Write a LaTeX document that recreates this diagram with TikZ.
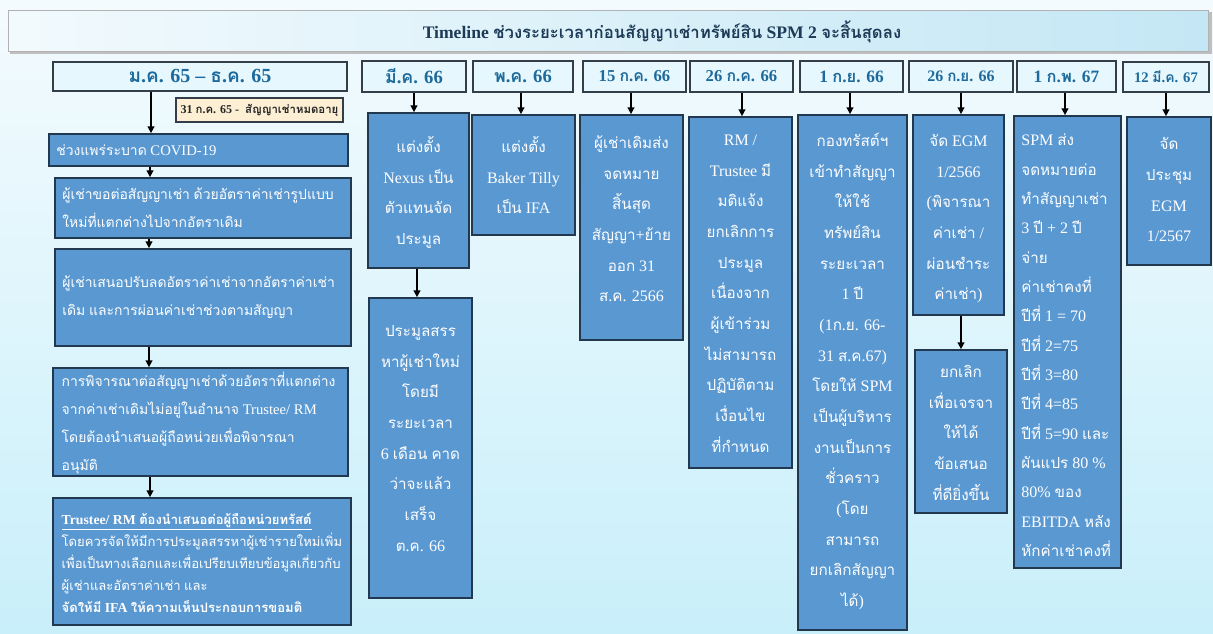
\documentclass[tikz,border=0pt]{standalone}
\usepackage{fontspec}
\usetikzlibrary{arrows.meta,fit}
\setmainfont{Liberation Serif}
\newfontfamily\thaifont[Script=Thai,Scale=0.95]{Loma}
\XeTeXinterchartokenstate=1
\chardef\ThaiCls=10
\count255="0E00
\loop \XeTeXcharclass\count255=\ThaiCls \advance\count255 by 1 \ifnum\count255<"0E80 \repeat
\XeTeXinterchartoks 0 \ThaiCls = {\thaifont}
\XeTeXinterchartoks 4095 \ThaiCls = {\thaifont}
\XeTeXinterchartoks \ThaiCls 0 = {\rmfamily}
\XeTeXinterchartoks \ThaiCls 4095 = {\rmfamily}
\definecolor{bgtop}{HTML}{F4FBFE}
\definecolor{bgbot}{HTML}{C9EFFA}
\definecolor{boxblue}{HTML}{5A98D2}
\definecolor{boxline}{HTML}{22384F}
\definecolor{hdrfill}{HTML}{E6F8FD}
\definecolor{hdrline}{HTML}{333E48}
\definecolor{hdrtxt}{HTML}{1E6A9C}
\definecolor{titletxt}{HTML}{1D3B57}
\definecolor{notefill}{HTML}{FCEFD3}
\definecolor{banleft}{HTML}{F2FAFD}
\definecolor{banright}{HTML}{C4E7F5}
\tikzset{
  hdr/.style={draw=hdrline, line width=1.2pt, fill=hdrfill, inner sep=0pt},
  hdrtext/.style={inner sep=0pt, text=hdrtxt},
  bbox/.style={draw=boxline, line width=1.3pt, fill=boxblue, inner sep=0pt},
  ltext/.style={inner sep=0pt, anchor=west, text=white, align=left, font=\fontsize{11}{21}\selectfont},
  ctext/.style={text=white, align=center, inner sep=0pt, anchor=north, font=\fontsize{12}{23}\selectfont, execute at begin node={\rule{0pt}{14pt}}},
  arr/.style={-{Triangle[length=5pt,width=5pt]}, line width=1.1pt, draw=black},
}
\begin{document}
\begin{tikzpicture}[x=0.75pt,y=-0.75pt]
\useasboundingbox (0,0) rectangle (1213,633);
\shade[top color=bgtop, bottom color=bgbot] (0,0) rectangle (1213,633);
% title banner
\fill[gray!50] (10,12) rectangle (1212,54);
\node[fit={(8,10)(1208,51)}, inner sep=0pt, left color=banleft, right color=banright, draw=gray!60, line width=0.6pt] (title) {};
\node[inner sep=0pt, text=titletxt, font=\fontsize{13.2}{16}\selectfont\bfseries] (titlet) at (662,32) {Timeline ช่วงระยะเวลาก่อนสัญญาเช่าทรัพย์สิน SPM 2 จะสิ้นสุดลง};
% column 1
\node[hdr, fit={(53,62)(347,91)}] (h1) {};
\node[hdrtext, font=\fontsize{15}{17}\selectfont\bfseries] (h1t) at (h1) {ม.ค. 65 – ธ.ค. 65};
\node[fit={(176,98)(343,122)}, inner sep=0pt, draw=hdrline, line width=1pt, fill=notefill] (note) {};
\node[inner sep=0pt, text=black!85, font=\fontsize{9}{10}\selectfont\bfseries] (notet) at (note) {31 ก.ค. 65 -~ สัญญาเช่าหมดอายุ};
\node[bbox, fit={(49,134)(348,166)}] (l1) {};
\node[ltext] (l1t) at ([xshift=6pt]l1.west) {ช่วงแพร่ระบาด COVID-19};
\node[bbox, fit={(55,178)(351,238)}] (l2) {};
\node[ltext] (l2t) at ([xshift=6pt]l2.west) {ผู้เช่าขอต่อสัญญาเช่า ด้วยอัตราค่าเช่ารูปแบบ\\ใหม่ที่แตกต่างไปจากอัตราเดิม};
\node[bbox, fit={(55,249)(351,346)}] (l3) {};
\node[ltext] (l3t) at ([xshift=6pt]l3.west) {ผู้เช่าเสนอปรับลดอัตราค่าเช่าจากอัตราค่าเช่า\\เดิม และการผ่อนค่าเช่าช่วงตามสัญญา};
\node[bbox, fit={(53,368)(348,476)}] (l4) {};
\node[ltext] (l4t) at ([xshift=7pt,yshift=-1pt]l4.west) {การพิจารณาต่อสัญญาเช่าด้วยอัตราที่แตกต่าง\\จากค่าเช่าเดิมไม่อยู่ในอำนาจ Trustee/ RM\\โดยต้องนำเสนอผู้ถือหน่วยเพื่อพิจารณา\\อนุมัติ};
\node[bbox, fit={(53,498)(351,625)}] (l5) {};
\node[ltext, font=\fontsize{10.3}{16.5}\selectfont] (l5t) at ([xshift=7pt,yshift=-1pt]l5.west) {\textbf{\underline{Trustee/ RM ต้องนำเสนอต่อผู้ถือหน่วยทรัสต์}}\\โดยควรจัดให้มีการประมูลสรรหาผู้เช่ารายใหม่เพิ่ม\\เพื่อเป็นทางเลือกและเพื่อเปรียบเทียบข้อมูลเกี่ยวกับ\\ผู้เช่าและอัตราค่าเช่า และ\\\textbf{จัดให้มี IFA ให้ความเห็นประกอบการขอมติ}};
\draw[arr] (h1.south -| 151,0) -- (l1.north -| 151,0);
\draw[arr] (l1.south -| 150,0) -- (l2.north -| 150,0);
\draw[arr] (l2.south -| 149,0) -- (l3.north -| 149,0);
\draw[arr] (l3.south -| 149,0) -- (l4.north -| 149,0);
\draw[arr] (l4.south -| 150,0) -- (l5.north -| 150,0);
% column 2
\node[hdr, fit={(362,61)(466,92)}] (h2) {};
\node[hdrtext, font=\fontsize{14}{16}\selectfont\bfseries] (h2t) at (h2) {มี.ค. 66};
\node[bbox, fit={(368,113)(469,268)}] (b2a) {};
\node[ctext] (t2a) at ([yshift=-18pt]b2a.north) {แต่งตั้ง\\Nexus เป็น\\ตัวแทนจัด\\ประมูล};
\node[bbox, fit={(369,298)(472,598)}] (b2b) {};
\node[ctext] (t2b) at ([yshift=-21pt]b2b.north) {ประมูลสรร\\หาผู้เช่าใหม่\\โดยมี\\ระยะเวลา\\6 เดือน คาด\\ว่าจะแล้ว\\เสร็จ\\ต.ค. 66};
\draw[arr] (h2.south -| 414,0) -- (b2a.north -| 414,0);
\draw[arr] (b2a.south -| 417,0) -- (b2b.north -| 417,0);
% column 3
\node[hdr, fit={(473,61)(573,92)}] (h3) {};
\node[hdrtext, font=\fontsize{14}{16}\selectfont\bfseries] (h3t) at (h3) {พ.ค. 66};
\node[bbox, fit={(472,115)(575,235)}] (b3) {};
\node[ctext] (t3) at ([yshift=-16.5pt]b3.north) {แต่งตั้ง\\Baker Tilly\\เป็น IFA};
\draw[arr] (h3.south -| 521,0) -- (b3.north -| 521,0);
% column 4
\node[hdr, fit={(583,61)(686,92)}] (h4) {};
\node[hdrtext, font=\fontsize{12.5}{14}\selectfont\bfseries] (h4t) at (h4) {15 ก.ค. 66};
\node[bbox, fit={(580,115)(683,340)}] (b4) {};
\node[ctext] (t4) at ([yshift=-16pt]b4.north) {ผู้เช่าเดิมส่ง\\จดหมาย\\สิ้นสุด\\สัญญา+ย้าย\\ออก 31\\ส.ค. 2566};
\draw[arr] (h4.south -| 631,0) -- (b4.north -| 631,0);
% column 5
\node[hdr, fit={(690,61)(793,92)}] (h5) {};
\node[hdrtext, font=\fontsize{12.5}{14}\selectfont\bfseries] (h5t) at (h5) {26 ก.ค. 66};
\node[bbox, fit={(689,117)(792,468)}] (b5) {};
\node[ctext] (t5) at ([yshift=-14pt]b5.north) {RM /\\Trustee มี\\มติแจ้ง\\ยกเลิกการ\\ประมูล\\เนื่องจาก\\ผู้เข้าร่วม\\ไม่สามารถ\\ปฏิบัติตาม\\เงื่อนไข\\ที่กำหนด};
\draw[arr] (h5.south -| 742,0) -- (b5.north -| 742,0);
% column 6
\node[hdr, fit={(800,61)(903,92)}] (h6) {};
\node[hdrtext, font=\fontsize{13}{15}\selectfont\bfseries] (h6t) at (h6) {1 ก.ย. 66};
\node[bbox, fit={(798,115)(907,630)}] (b6) {};
\node[ctext] (t6) at ([yshift=-14pt]b6.north) {กองทรัสต์ฯ\\เข้าทำสัญญา\\ให้ใช้\\ทรัพย์สิน\\ระยะเวลา\\1 ปี\\(1ก.ย. 66-\\31 ส.ค.67)\\โดยให้ SPM\\เป็นผู้บริหาร\\งานเป็นการ\\ชั่วคราว\\(โดย\\สามารถ\\ยกเลิกสัญญา\\ได้)};
\draw[arr] (h6.south -| 850,0) -- (b6.north -| 850,0);
% column 7
\node[hdr, fit={(909,61)(1013,92)}] (h7) {};
\node[hdrtext, font=\fontsize{12}{14}\selectfont\bfseries] (h7t) at (h7) {26 ก.ย. 66};
\node[bbox, fit={(913,115)(1004,315)}] (b7a) {};
\node[ctext] (t7a) at ([yshift=-15pt]b7a.north) {จัด EGM\\1/2566\\(พิจารณา\\ค่าเช่า /\\ผ่อนชำระ\\ค่าเช่า)};
\node[bbox, fit={(915,350)(1007,513)}] (b7b) {};
\node[ctext] (t7b) at ([yshift=-12pt]b7b.north) {ยกเลิก\\เพื่อเจรจา\\ให้ได้\\ข้อเสนอ\\ที่ดียิ่งขึ้น};
\draw[arr] (h7.south -| 961,0) -- (b7a.north -| 961,0);
\draw[arr] (b7a.south -| 961,0) -- (b7b.north -| 961,0);
% column 8
\node[hdr, fit={(1017,61)(1116,92)}] (h8) {};
\node[hdrtext, font=\fontsize{13}{15}\selectfont\bfseries] (h8t) at (h8) {1 ก.พ. 67};
\node[bbox, fit={(1014,116)(1121,568)}] (b8) {};
\node[ctext, anchor=north west, align=left, font=\fontsize{12}{22}\selectfont] (t8) at ([xshift=6pt,yshift=-14pt]b8.north west) {SPM ส่ง\\จดหมายต่อ\\ทำสัญญาเช่า\\3 ปี + 2 ปี\\จ่าย\\ค่าเช่าคงที่\\ปีที่ 1 = 70\\ปีที่ 2=75\\ปีที่ 3=80\\ปีที่ 4=85\\ปีที่ 5=90 และ\\ผันแปร 80 \%\\80\% ของ\\EBITDA หลัง\\หักค่าเช่าคงที่};
\draw[arr] (h8.south -| 1065,0) -- (b8.north -| 1065,0);
% column 9
\node[hdr, fit={(1123,62)(1209,92)}] (h9) {};
\node[hdrtext, font=\fontsize{11}{13}\selectfont\bfseries] (h9t) at (h9) {12 มี.ค. 67};
\node[bbox, fit={(1127,117)(1211,265)}] (b9) {};
\node[ctext] (t9) at ([yshift=-16pt]b9.north) {จัด\\ประชุม\\EGM\\1/2567};
\draw[arr] (h9.south -| 1166,0) -- (b9.north -| 1166,0);
\end{tikzpicture}
\end{document}
